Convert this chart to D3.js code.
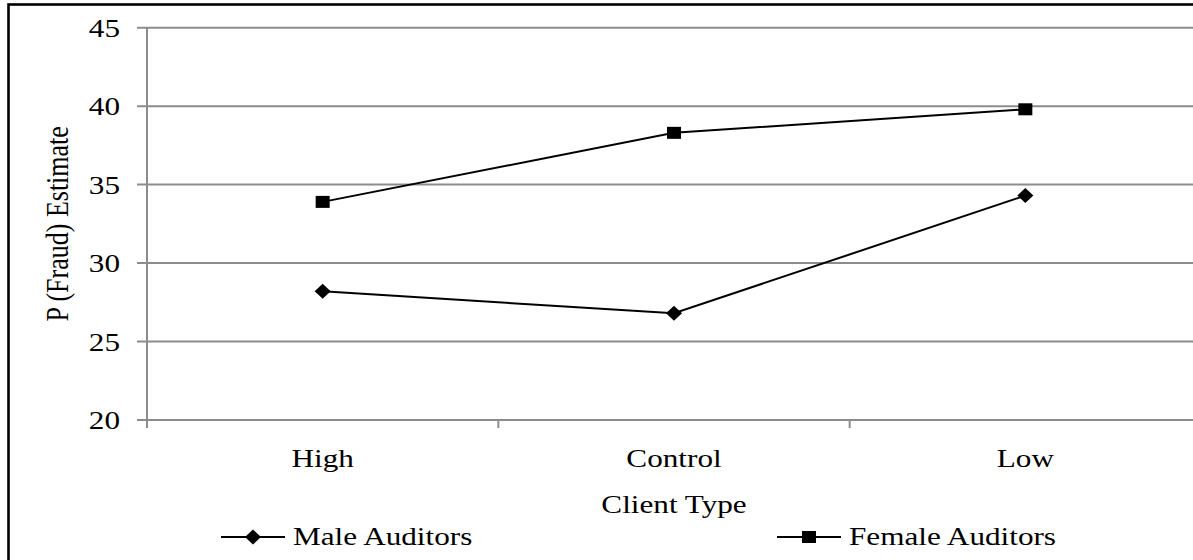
<!DOCTYPE html>
<html>
<head>
<meta charset="utf-8">
<script src="https://cdn.jsdelivr.net/npm/d3@7"></script>
<style>
  body { margin: 0; background: #fff; }
  svg { display: block; }
  text { font-family: "Liberation Serif", "Times New Roman", serif; fill: #000; }
</style>
</head>
<body>
<svg id="chart" width="1193" height="560"></svg>
<script>
// Data
const categories = ["High", "Control", "Low"];
const maleValues = [28.2, 26.8, 34.3];
const femaleValues = [33.9, 38.3, 39.8];
const yTicks = [20, 25, 30, 35, 40, 45];
const seriesNames = ["Male Auditors", "Female Auditors"];
const yTitle = "P (Fraud) Estimate";
const xTitle = "Client Type";

const svg = d3.select("#chart");
const stretch = 1.2;          // wide glyph aspect used throughout
const fontSize = 26;
const gridColor = "#8c8c8c";

const plot = { left: 147, right: 1201, top: 27.7, bottom: 420 };

const x = d3.scaleBand().domain(categories).range([plot.left, plot.right]);
const y = d3.scaleLinear().domain([20, 45]).range([plot.bottom, plot.top]);
const cx = c => x(c) + x.bandwidth() / 2;

// Outer frame
svg.append("rect")
  .attr("x", 8.5).attr("y", 4.5)
  .attr("width", 1220).attr("height", 620)
  .attr("fill", "none").attr("stroke", "#000").attr("stroke-width", 2.6);

// Horizontal gridlines with left tick marks
svg.append("g").selectAll("line").data(yTicks).join("line")
  .attr("x1", plot.left - 10).attr("x2", plot.right)
  .attr("y1", d => y(d)).attr("y2", d => y(d))
  .attr("stroke", gridColor).attr("stroke-width", 2);

// Value axis line
svg.append("line")
  .attr("x1", plot.left).attr("x2", plot.left)
  .attr("y1", plot.top).attr("y2", plot.bottom + 8)
  .attr("stroke", gridColor).attr("stroke-width", 2);

// Category tick marks at band boundaries
svg.append("g").selectAll("line").data(categories.slice(1)).join("line")
  .attr("x1", d => x(d)).attr("x2", d => x(d))
  .attr("y1", plot.bottom).attr("y2", plot.bottom + 8)
  .attr("stroke", gridColor).attr("stroke-width", 2);

// Helper for horizontally stretched text
function label(g, str, px, py, anchor) {
  return g.append("text")
    .attr("transform", `translate(${px},${py}) scale(${stretch},1)`)
    .attr("text-anchor", anchor)
    .attr("font-size", fontSize)
    .text(str);
}

// Value tick labels
yTicks.forEach(v => label(svg, v, 120, y(v) + 9));
svg.selectAll("text").attr("text-anchor", "end");

// Category labels
categories.forEach(c => label(svg, c, cx(c), 467, "middle"));

// Axis titles
label(svg, xTitle, cx(categories[1]), 513, "middle");
svg.append("text")
  .attr("transform", `translate(68,${(plot.top + plot.bottom) / 2}) rotate(-90) scale(1.0,${stretch})`)
  .attr("text-anchor", "middle")
  .attr("font-size", fontSize)
  .text(yTitle);

// Series
const series = [
  { name: seriesNames[0], values: maleValues, shape: "diamond" },
  { name: seriesNames[1], values: femaleValues, shape: "square" }
];

const line = d3.line().x(d => cx(d.c)).y(d => y(d.v));

function drawMarker(g, shape, px, py) {
  if (shape === "diamond") {
    g.append("path")
      .attr("d", `M${px},${py - 7.5} L${px + 8},${py} L${px},${py + 7.5} L${px - 8},${py} Z`)
      .attr("fill", "#000");
  } else {
    g.append("rect")
      .attr("x", px - 7).attr("y", py - 6)
      .attr("width", 14).attr("height", 12)
      .attr("fill", "#000");
  }
}

series.forEach(s => {
  const pts = categories.map((c, i) => ({ c, v: s.values[i] }));
  const g = svg.append("g");
  g.append("path").datum(pts)
    .attr("d", line)
    .attr("fill", "none").attr("stroke", "#000").attr("stroke-width", 2);
  pts.forEach(p => drawMarker(g, s.shape, cx(p.c), y(p.v)));
});

// Legend
const legendItems = [
  { x0: 221, shape: "diamond", name: seriesNames[0] },
  { x0: 777, shape: "square", name: seriesNames[1] }
];
const legendY = 537;
legendItems.forEach((it, i) => {
  const g = svg.append("g");
  g.append("line")
    .attr("x1", it.x0).attr("x2", it.x0 + 64)
    .attr("y1", legendY).attr("y2", legendY)
    .attr("stroke", "#000").attr("stroke-width", 2);
  drawMarker(g, series[i].shape, it.x0 + 32, legendY);
  label(g, it.name, it.x0 + 72, 545, "start");
});
</script>
</body>
</html>
